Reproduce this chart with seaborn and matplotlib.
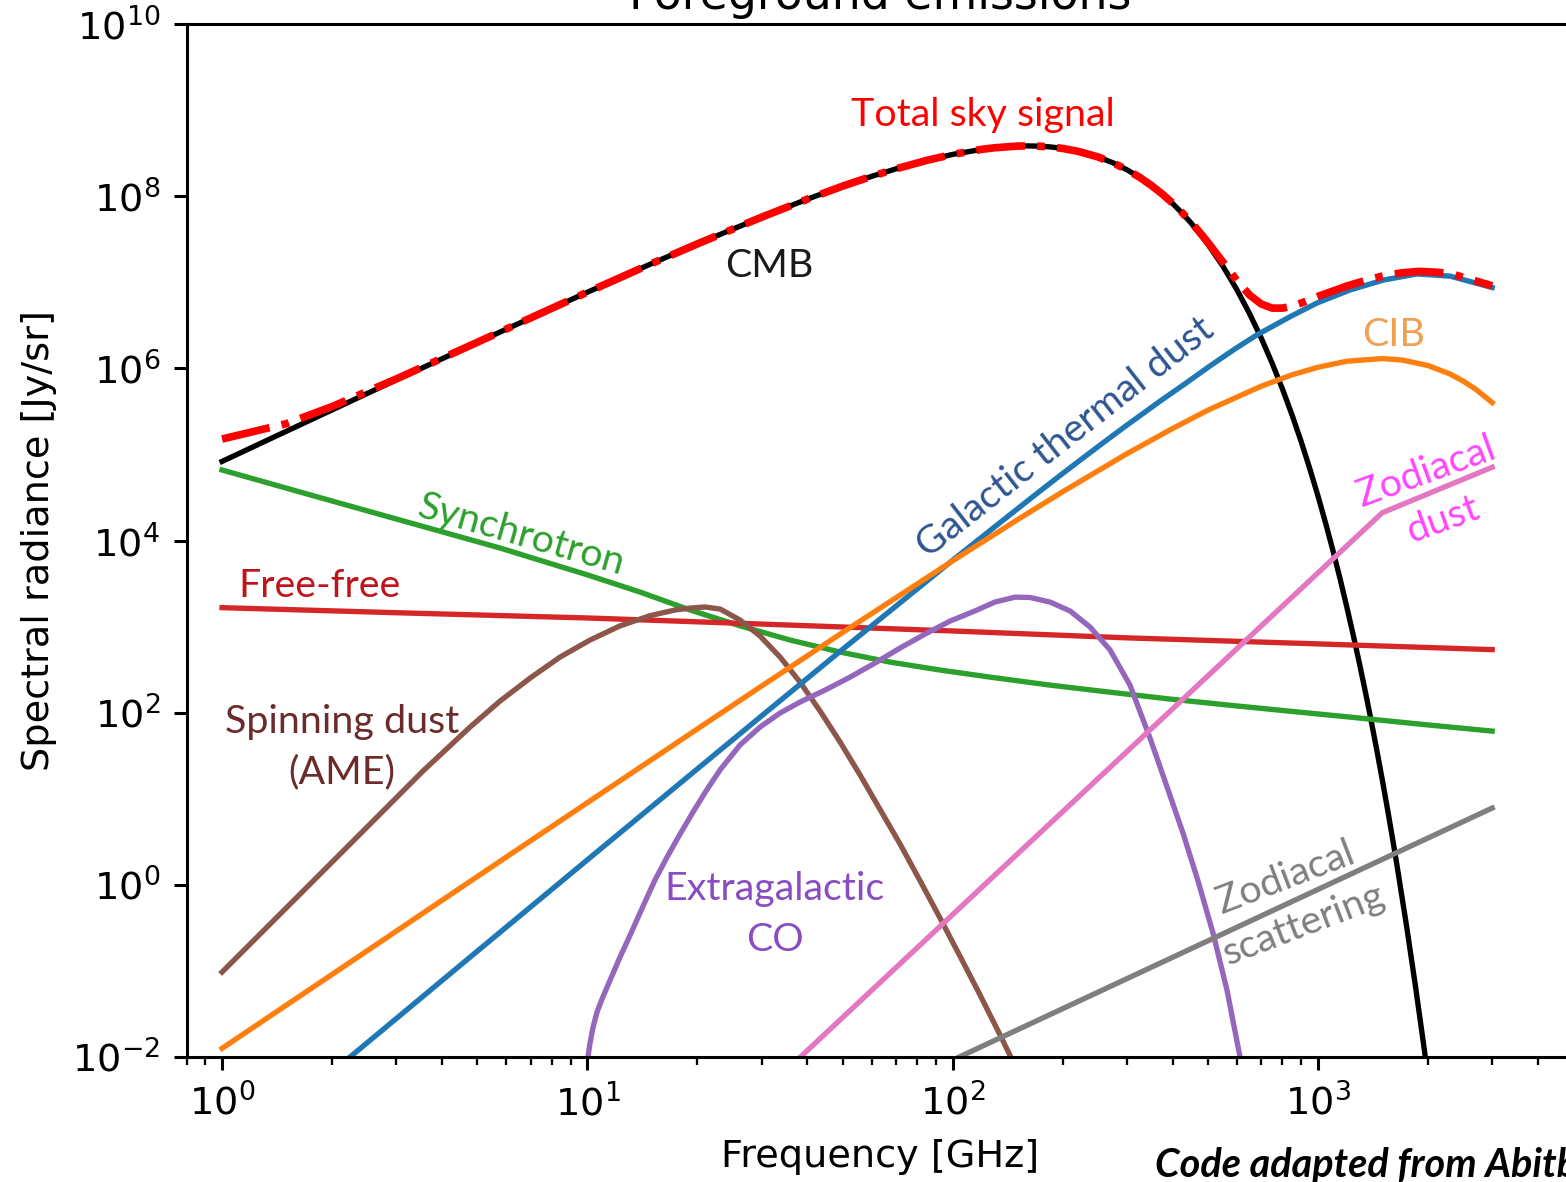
import numpy as np
import pandas as pd
import seaborn as sns
import matplotlib.pyplot as plt
from matplotlib.ticker import NullLocator

# Values (frequency in GHz, radiance in Jy/sr)
cmb_freq = [1, 1.5, 2, 3, 5, 7, 10, 15, 20, 30, 40, 50, 60, 70, 85, 100, 120, 130, 150, 160,
            170, 185, 200, 220, 250, 275, 300, 325, 350, 375, 400, 425, 450, 475, 500, 550,
            600, 650, 700, 750, 800, 850, 900, 950, 1000, 1050, 1100, 1150, 1200, 1250,
            1300, 1350, 1400, 1450, 1500, 1550, 1600, 1650, 1750, 1850, 1950, 2000, 2200]
cmb_val = [8.3e4, 1.86e5, 3.29e5, 7.35e5, 2.0e6, 3.85e6, 7.66e6, 1.65e7, 2.79e7, 5.71e7,
           9.23e7, 1.31e8, 1.70e8, 2.08e8, 2.61e8, 3.06e8, 3.50e8, 3.65e8, 3.82e8, 3.84e8,
           3.82e8, 3.74e8, 3.59e8, 3.33e8, 2.86e8, 2.44e8, 2.03e8, 1.66e8, 1.33e8, 1.055e8,
           8.24e7, 6.36e7, 4.86e7, 3.68e7, 2.76e7, 1.53e7, 8.21e6, 4.33e6, 2.24e6, 1.14e6,
           5.75e5, 2.86e5, 1.41e5, 6.86e4, 3.32e4, 1.59e4, 7.6e3, 3.6e3, 1.69e3, 7.93e2,
           3.7e2, 1.72e2, 7.94e1, 3.66e1, 1.68e1, 7.7, 3.5, 1.59, 3.27e-1, 6.63e-2, 1.34e-2,
           6.0e-3, 2.3e-4]

total_freq = [1, 1.5, 2, 3, 5, 7, 10, 15, 20, 30, 40, 50, 60, 70, 85, 100, 120, 130, 150, 160,
              170, 185, 200, 220, 250, 275, 300, 325, 350, 375, 400, 425, 450, 475, 500, 550,
              600, 650, 700, 750, 800, 850, 900, 950, 1000, 1100, 1200, 1350, 1500, 1700,
              1900, 2100, 2300, 2500, 2700, 3000]
total_val = [1.51e5, 2.28e5, 3.6e5, 7.54e5, 2.01e6, 3.86e6, 7.67e6, 1.65e7, 2.79e7, 5.71e7,
             9.23e7, 1.31e8, 1.70e8, 2.08e8, 2.61e8, 3.06e8, 3.50e8, 3.65e8, 3.82e8, 3.84e8,
             3.82e8, 3.74e8, 3.59e8, 3.33e8, 2.86e8, 2.44e8, 2.03e8, 1.66e8, 1.334e8, 1.06e8,
             8.31e7, 6.44e7, 4.96e7, 3.80e7, 2.90e7, 1.71e7, 1.05e7, 7.11e6, 5.59e6, 5.01e6,
             5.01e6, 5.29e6, 5.73e6, 6.26e6, 6.86e6, 7.92e6, 9.06e6, 1.05e7, 1.18e7, 1.29e7,
             1.34e7, 1.31e7, 1.27e7, 1.14e7, 1.04e7, 9.1e6]

sync_freq = [1, 1.635, 3.07, 5.77, 10.04, 13.94, 19.1, 26.2, 35.9, 49.2, 67.4, 92.4, 126.6,
             184.8, 269.8, 393.7, 574.8, 838.8, 1224, 1904, 3000]
sync_val = [6.6e4, 3.66e4, 1.73e4, 8.18e3, 3.97e3, 2.52e3, 1.56e3, 1.02e3, 698, 506, 387,
            313, 259, 209, 173, 144, 122, 104, 88.9, 73.6, 61.1]

ff_freq = [1, 3, 10, 30, 100, 300, 1000, 3000]
ff_val = [1.66e3, 1.45e3, 1.26e3, 1.07e3, 8.9e2, 7.4e2, 6.3e2, 5.4e2]

ame_freq = [1, 1.635, 2.707, 3.556, 3.953, 4.775, 5.768, 6.968, 8.422, 10.17, 12.29, 14.85,
            17.39, 19.1, 21.0, 23.1, 26.2, 29.7, 33.7, 38.2, 43.4, 49.2, 55.8, 63.2, 71.8,
            81.5, 92.4, 104.7, 118.9, 134.9, 153, 173]
ame_val = [0.097, 0.78, 6.64, 21.2, 32.2, 68.1, 136.5, 252, 443, 698, 1.02e3, 1.34e3, 1.56e3,
           1.64e3, 1.69e3, 1.60e3, 1.19e3, 777, 443, 227, 104, 45.6, 18.9, 7.6, 2.98, 1.11,
           0.411, 0.149, 0.0525, 0.018, 0.006, 0.00195]

dust_freq = [1, 2, 3, 5, 10, 20, 30, 50, 100, 120, 150, 170, 200, 253, 300, 370, 430, 507,
             590, 681, 839, 994, 1224, 1508, 1867, 2299, 3000]
dust_val = [5.75e-4, 6.7e-3, 2.8e-2, 0.17, 1.95, 22.2, 91.8, 545, 5.9e3, 1.09e4, 2.31e4,
            3.51e4, 6.0e4, 1.28e5, 2.19e5, 4.17e5, 6.5e5, 1.07e6, 1.66e6, 2.45e6, 3.98e6,
            5.74e6, 8.13e6, 1.06e7, 1.25e7, 1.18e7, 8.7e6]

cib_freq = [1, 2, 3, 5, 10, 20, 30, 50, 100, 150, 200, 300, 400, 500, 700, 850, 1000, 1200,
            1500, 1700, 2000, 2300, 2500, 2700, 3000]
cib_val = [1.26e-2, 9.1e-2, 0.29, 1.25, 9.0, 64.6, 204, 855, 5.8e3, 1.73e4, 3.68e4, 1.02e5,
           2.0e5, 3.27e5, 6.21e5, 8.42e5, 1.03e6, 1.21e6, 1.30e6, 1.25e6, 1.08e6, 8.61e5,
           7.11e5, 5.75e5, 4.01e5]

co_freq = [10.04, 10.17, 10.37, 10.63, 10.97, 11.39, 12.29, 13.17, 14.21, 15.32, 16.53, 17.94,
           19.47, 21.13, 23.08, 26.18, 29.7, 33.7, 38.22, 44.75, 52.4, 61.3, 71.8, 84.1, 98.4,
           115.1, 130.6, 148.3, 162.9, 184.8, 209.6, 237.8, 269.8, 305.9, 347.1, 381.4, 427.2,
           469.7, 516.3, 563.8, 612.1, 651.9]
co_val = [0.01, 0.0145, 0.0223, 0.0333, 0.0471, 0.0685, 0.145, 0.275, 0.566, 1.14, 2.10, 3.89,
          7.01, 12.3, 21.6, 42.1, 68.1, 99.1, 133, 183, 259, 377, 564, 820, 1.16e3, 1.52e3,
          1.93e3, 2.20e3, 2.18e3, 1.93e3, 1.52e3, 989, 535, 209, 50.7, 16.1, 4.0, 1.11, 0.275,
          0.06, 0.01, 2.4e-3]

zodi_freq = [1, 1500, 3000]
zodi_val = [5.2e-9, 2.1e4, 7.1e4]

zscat_freq = [1, 3000]
zscat_val = [1.0e-6, 7.8]

components = [
    (cmb_freq, cmb_val, 'black'),
    (sync_freq, sync_val, '#2ca02c'),
    (ff_freq, ff_val, '#d62728'),
    (ame_freq, ame_val, '#8c564b'),
    (dust_freq, dust_val, '#1f77b4'),
    (cib_freq, cib_val, '#ff7f0e'),
    (co_freq, co_val, '#9467bd'),
    (zodi_freq, zodi_val, '#e377c2'),
    (zscat_freq, zscat_val, '#7f7f7f'),
]

fig = plt.figure(figsize=(1566 / 275, 1182 / 275), dpi=275)
ax = fig.add_axes([0.1192, 0.10575, 0.8854, 0.8739])
ax.set_xscale('log')
ax.set_yscale('log')

for freq, val, col in components:
    sns.lineplot(x=freq, y=val, color=col, lw=1.4, ax=ax)

sns.lineplot(x=total_freq, y=total_val, color='red', lw=2, linestyle='-.', ax=ax)

ax.set_xlim(0.8, 5000)
ax.set_ylim(1e-2, 1e10)
ax.set_yticks([10.0 ** k for k in range(-2, 11, 2)])
ax.yaxis.set_minor_locator(NullLocator())
ax.set_xlabel('Frequency [GHz]')
ax.set_ylabel('Spectral radiance [Jy/sr]')
ax.set_title('Foreground emissions', pad=4)

# curve labels
lab = dict(family='Lato', fontsize=10.3, ha='center', va='center', linespacing=1.5)
ax.text(121, 8.8e8, 'Total sky signal', color='#ff0000', **lab)
ax.text(31.4, 1.55e7, 'CMB', color='#1a1a1a', **lab)
ax.text(6.6, 1.15e4, 'Synchrotron', color='#2ca02c', rotation=-16,
        rotation_mode='anchor', **lab)
ax.text(1.85, 3.0e3, 'Free-free', color='#c0141c', **lab)
ax.text(2.13, 40, 'Spinning dust\n(AME)', color='#6b2b2b', multialignment='center', **lab)
ax.text(203, 1.58e5, 'Galactic thermal dust', color='#2e5591', rotation=38,
        rotation_mode='anchor', **lab)
ax.text(1607, 2.45e6, 'CIB', color='#f0a050', **lab)
ax.text(2084, 3.3e4, 'Zodiacal\ndust', color='#ff44ff', rotation=20,
        rotation_mode='anchor', multialignment='center', **lab)
ax.text(32.6, 0.45, 'Extragalactic\nCO', color='#8a4cc2', multialignment='center', **lab)
ax.text(863, 0.65, 'Zodiacal\nscattering', color='#7f7f7f', rotation=21,
        rotation_mode='anchor', multialignment='center', **lab)

fig.text(1155 / 1566, 5 / 1182, 'Code adapted from Abitbol et al.', family='Lato',
         fontsize=10.4, fontweight='bold', fontstyle='italic', ha='left', va='baseline')

fig.savefig('out.png', dpi=275)
